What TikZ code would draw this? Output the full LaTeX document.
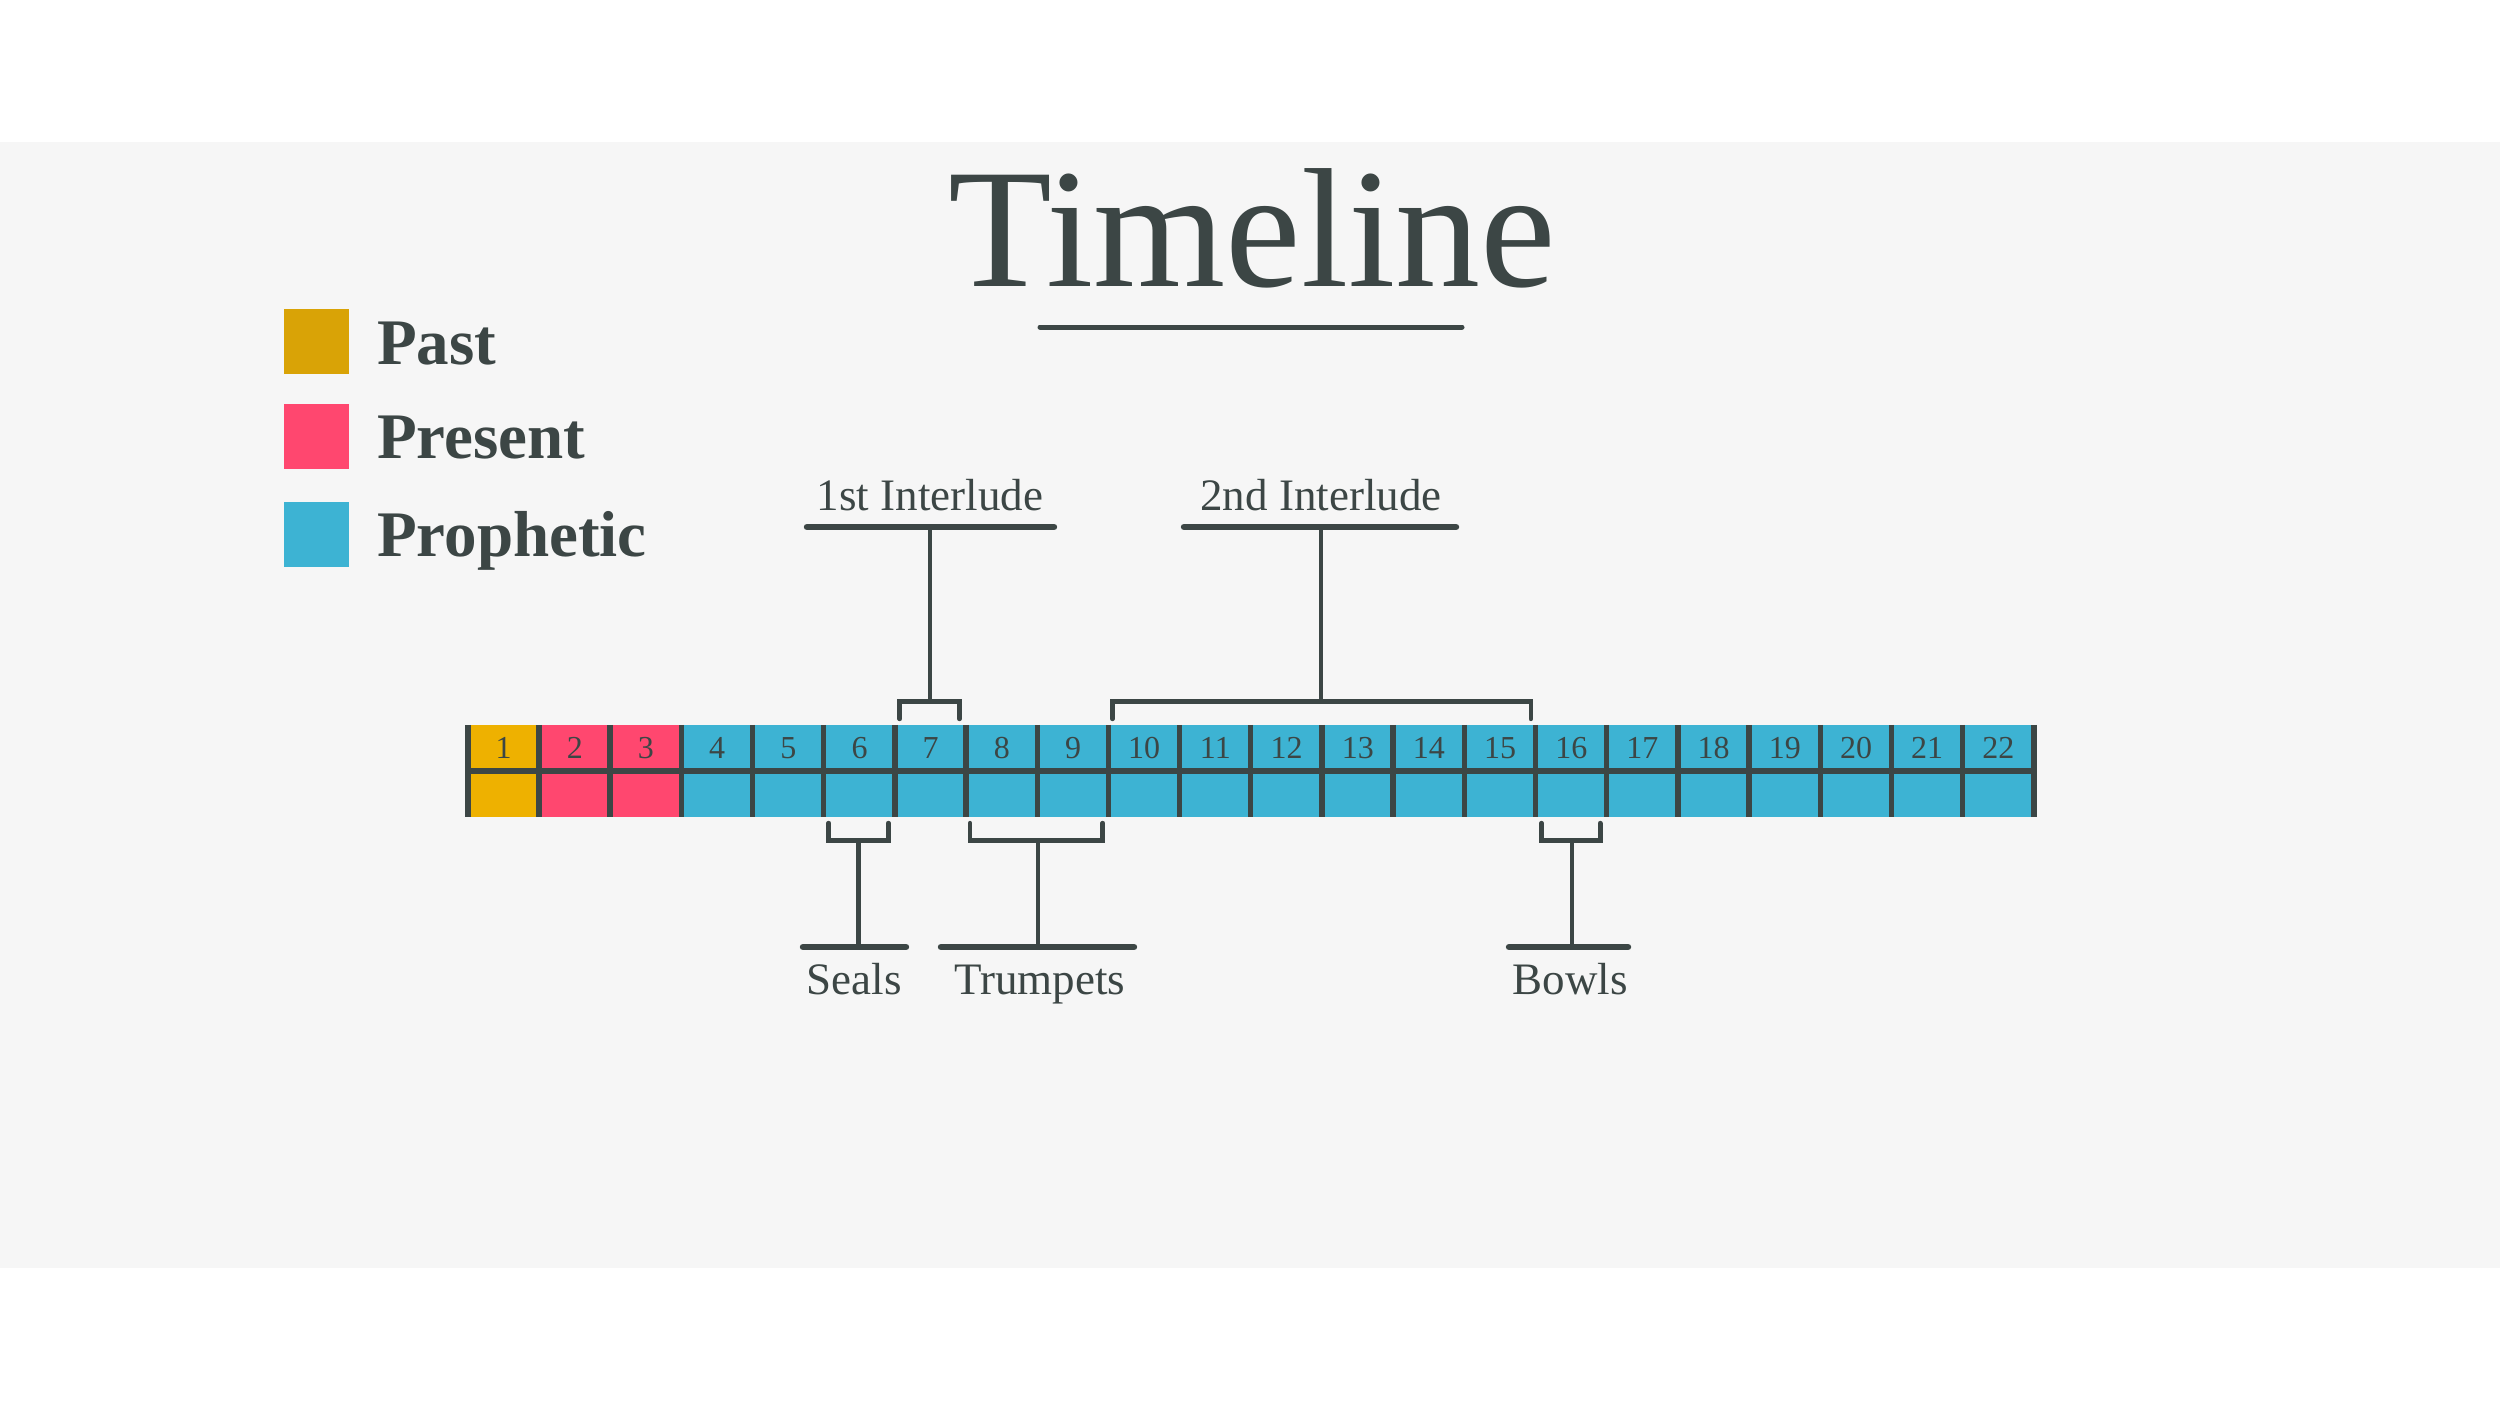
\documentclass[tikz,border=0pt]{standalone}
\usepackage{fontspec}
\setmainfont{Liberation Serif}
\definecolor{ink}{HTML}{3C4645}
\definecolor{bg}{HTML}{F6F6F6}
\definecolor{pastc}{HTML}{EEB100}
\definecolor{pastl}{HTML}{D9A306}
\definecolor{presc}{HTML}{FF476F}
\definecolor{proc}{HTML}{3DB3D3}
\begin{document}
\begin{tikzpicture}[x=1pt,y=-1pt,
  cell/.style={rectangle, inner sep=0pt, minimum width=71.18pt, minimum height=92pt, draw=none},
  num/.style={inner sep=0pt, text=ink, font=\fontsize{32}{32}\selectfont},
  divider/.style={draw=ink, line width=5.4pt},
  brk/.style={draw=ink, line width=4.8pt, line cap=round, line join=miter},
  stem/.style={draw=ink, line width=4.4pt},
  lbar/.style={draw=ink, line width=6.4pt, line cap=round},
  lab/.style={inner sep=0pt, anchor=base, text=ink, font=\fontsize{45}{45}\selectfont},
  sq/.style={rectangle, inner sep=0pt, minimum size=65pt, draw=none},
  legtext/.style={inner sep=0pt, anchor=base west, text=ink, font=\fontsize{65}{65}\selectfont\bfseries}
]
\useasboundingbox (0,0) rectangle (2500,1406);
\fill[white] (0,0) rectangle (2500,1406);
\fill[bg] (0,142) rectangle (2500,1268);

% title
\node[inner sep=0pt, anchor=base, text=ink, font=\fontsize{170}{170}\selectfont] (title) at (1252,286) {Timeline};
\coordinate (ulA) at (1040,327);
\coordinate (ulB) at (1462,327);
\draw[ink, line width=5pt, line cap=round] (ulA) -- (ulB);

% legend
\node[sq, fill=pastl] (sqpast) at (316.5,341.5) {};
\node[sq, fill=presc] (sqpres) at (316.5,436.5) {};
\node[sq, fill=proc] (sqproph) at (316.5,534.5) {};
\node[legtext] (tpast) at (377,364) {Past};
\node[legtext] (tpres) at (377,458) {Present};
\node[legtext] (tproph) at (377,556) {Prophetic};

% cells
\foreach \i in {1,...,22} {
  \pgfmathsetmacro\cx{468+71.18*(\i-0.5)}
  \ifnum\i=1 \def\cc{pastc}\else\ifnum\i<4 \def\cc{presc}\else\def\cc{proc}\fi\fi
  \node[cell, fill=\cc] (c\i) at (\cx,771) {};
  \node[num] (n\i) at (\cx,748) {\i};
}
\draw[ink, line width=5.2pt] (c1.west) -- (c22.east);
\foreach \i in {1,...,22} {
  \draw[divider] (c\i.north west) -- (c\i.south west);
}
\draw[divider] (c22.north east) -- (c22.south east);

% top brackets
\draw[brk] ([xshift=5pt,yshift=6pt]c7.north west) -- ++(0,-17) -| ([xshift=-7pt,yshift=6pt]c7.north east);
\draw[brk] ([xshift=4pt,yshift=6pt]c10.north west) -- ++(0,-17) -| ([xshift=-5pt,yshift=6pt]c15.north east);
\coordinate (s1) at (930,702);
\coordinate (s2) at (1321,702);

% interlude labels
\node[lab] (int1) at (930,510) {1st Interlude};
\node[lab] (int2) at (1321,510) {2nd Interlude};
\coordinate (b1) at (930,527);
\coordinate (b2) at (1321,527);
\draw[lbar] (807,527) -- (1054,527);
\draw[lbar] (1184,527) -- (1456,527);
\draw[stem] (s1) -- (b1);
\draw[stem] (s2) -- (b2);

% bottom brackets
\draw[brk] ([xshift=5pt,yshift=-6pt]c6.south west) -- ++(0,17) -| ([xshift=-7pt,yshift=-6pt]c6.south east);
\draw[brk] ([xshift=4pt,yshift=-6pt]c8.south west) -- ++(0,17) -| ([xshift=-6pt,yshift=-6pt]c9.south east);
\draw[brk] ([xshift=6pt,yshift=-6pt]c16.south west) -- ++(0,17) -| ([xshift=-7pt,yshift=-6pt]c16.south east);
\coordinate (s3) at (858.5,840);
\coordinate (s4) at (1038,840);
\coordinate (s5) at (1572,840);

\node[lab] (seals) at (854,994) {Seals};
\node[lab] (trump) at (1040,994) {Trumpets};
\node[lab] (bowls) at (1570,994) {Bowls};
\coordinate (b3) at (858.5,947);
\coordinate (b4) at (1038,947);
\coordinate (b5) at (1572,947);
\draw[lbar] (803,947) -- (906,947);
\draw[lbar] (941,947) -- (1134,947);
\draw[lbar] (1509,947) -- (1628,947);
\draw[stem] (s3) -- (b3);
\draw[stem] (s4) -- (b4);
\draw[stem] (s5) -- (b5);
\end{tikzpicture}
\end{document}
